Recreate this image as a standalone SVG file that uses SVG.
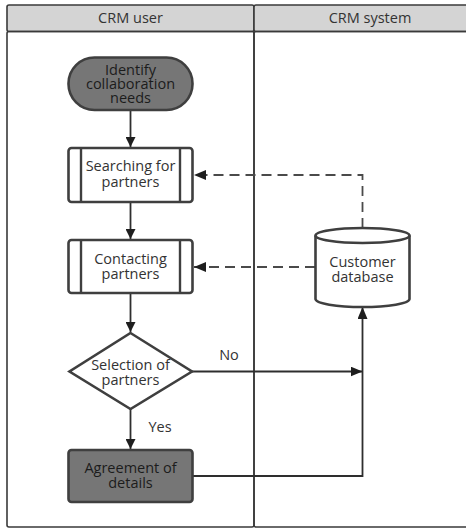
<svg xmlns="http://www.w3.org/2000/svg" width="466" height="529" viewBox="0 0 466 529">
  <style>
    .lane { fill: none; stroke: #3a3a3a; stroke-width: 1.6; }
    .head { fill: #d4d4d4; stroke: #3a3a3a; stroke-width: 1.6; }
    .shape { fill: #ffffff; stroke: #3f3f3f; stroke-width: 2.6; }
    .dark { fill: #767676; stroke: #3f3f3f; stroke-width: 2.6; }
    .sub { stroke: #3f3f3f; stroke-width: 2.4; fill: none; }
    text { font-family: "Open Sans", "Liberation Sans", sans-serif; font-size: 14.5px; fill: #333333; text-anchor: middle; }
    .hd { font-size: 14.5px; }
    .on-dark { fill: #1c1c1c; }
    .solid { fill: none; stroke: #2e2e2e; stroke-width: 1.8; }
    .dash { fill: none; stroke: #4a4a4a; stroke-width: 1.8; stroke-dasharray: 10 6; }
  </style>
  <defs>
    <marker id="arrow" viewBox="0 0 10 10" refX="10" refY="5" markerWidth="10" markerHeight="10" markerUnits="userSpaceOnUse" orient="auto">
      <path d="M0,0 L10,5 L0,10 z" fill="#1e1e1e"/>
    </marker>
    <marker id="arrowWide" viewBox="0 0 12 10" refX="12" refY="5" markerWidth="12" markerHeight="10" markerUnits="userSpaceOnUse" orient="auto">
      <path d="M0,0 L12,5 L0,10 z" fill="#1e1e1e"/>
    </marker>
  </defs>

  <!-- swimlanes -->
  <g id="lanes">
    <rect class="head" x="7" y="5" width="247" height="26.5" rx="2"/>
    <rect class="head" x="254" y="5" width="230" height="26.5" rx="2"/>
    <rect class="lane" x="7" y="31.5" width="247" height="495.5" rx="2"/>
    <rect class="lane" x="254" y="31.5" width="230" height="495.5" rx="2"/>
    <text class="hd" x="130.5" y="23">CRM user</text>
    <text class="hd" x="370" y="23">CRM system</text>
  </g>

  <!-- connectors -->
  <g id="connectors">
    <line class="solid" x1="130.5" y1="110" x2="130.5" y2="147" marker-end="url(#arrow)"/>
    <line class="solid" x1="130.5" y1="202" x2="130.5" y2="239" marker-end="url(#arrow)"/>
    <line class="solid" x1="130.5" y1="293" x2="130.5" y2="332" marker-end="url(#arrow)"/>
    <line class="solid" x1="130.5" y1="409" x2="130.5" y2="449" marker-end="url(#arrow)"/>
    <polyline class="solid" points="192,371.5 362.5,371.5" marker-end="url(#arrowWide)"/>
    <polyline class="solid" points="193,476 362.5,476 362.5,307" marker-end="url(#arrowWide)"/>
    <polyline class="dash" points="362.5,228 362.5,175 194,175" marker-end="url(#arrowWide)"/>
    <polyline class="dash" points="315,267 194,267" marker-end="url(#arrowWide)"/>
    <text x="229" y="360">No</text>
    <text x="160" y="432">Yes</text>
  </g>

  <g id="identify">
    <rect class="dark" x="68.5" y="57.5" width="124" height="52.5" rx="26"/>
    <text class="on-dark" y="75"><tspan x="130.5">Identify</tspan><tspan x="130.5" dy="14">collaboration</tspan><tspan x="130.5" dy="14">needs</tspan></text>
  </g>

  <g id="searching">
    <rect class="shape" x="68.5" y="148" width="124" height="54" rx="3"/>
    <line class="sub" x1="81" y1="148" x2="81" y2="202"/>
    <line class="sub" x1="180" y1="148" x2="180" y2="202"/>
    <text y="171"><tspan x="130.5">Searching for</tspan><tspan x="130.5" dy="16">partners</tspan></text>
  </g>

  <g id="contacting">
    <rect class="shape" x="68.5" y="240" width="124" height="53" rx="3"/>
    <line class="sub" x1="81" y1="240" x2="81" y2="293"/>
    <line class="sub" x1="180" y1="240" x2="180" y2="293"/>
    <text y="264"><tspan x="130.5">Contacting</tspan><tspan x="130.5" dy="15">partners</tspan></text>
  </g>

  <g id="selection">
    <polygon class="shape" points="130.5,333 192,371.5 130.5,409 69.5,371.5"/>
    <text y="370"><tspan x="130.5">Selection of</tspan><tspan x="130.5" dy="15">partners</tspan></text>
  </g>

  <g id="agreement">
    <rect class="dark" x="68.5" y="450" width="124" height="52" rx="3"/>
    <text class="on-dark" y="473"><tspan x="130.5">Agreement of</tspan><tspan x="130.5" dy="15">details</tspan></text>
  </g>

  <g id="database">
    <path class="shape" d="M315.5,235.5 L315.5,299 A47,8 0 0 0 409.5,299 L409.5,235.5"/>
    <ellipse class="shape" cx="362.5" cy="235.5" rx="47" ry="7.5"/>
    <text y="267"><tspan x="362.5">Customer</tspan><tspan x="362.5" dy="15">database</tspan></text>
  </g>
</svg>
